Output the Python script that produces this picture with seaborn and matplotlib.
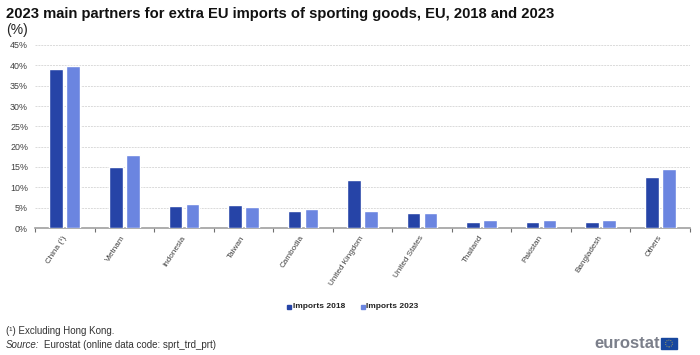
import pandas as pd
import seaborn as sns
import matplotlib.pyplot as plt
from matplotlib.patches import Rectangle, Circle

partners = ['China (¹)', 'Vietnam', 'Indonesia', 'Taiwan', 'Cambodia', 'United Kingdom',
            'United States', 'Thailand', 'Pakistan', 'Bangladesh', 'Others']
imports_2018 = [39.0, 15.0, 5.5, 5.7, 4.2, 11.8, 3.7, 1.4, 1.4, 1.4, 12.6]
imports_2023 = [39.8, 17.9, 6.0, 5.2, 4.6, 4.3, 3.7, 2.0, 2.0, 2.0, 14.4]
y_ticks = [0, 5, 10, 15, 20, 25, 30, 35, 40, 45]

df = pd.DataFrame({'partner': partners * 2,
                   'value': imports_2018 + imports_2023,
                   'series': ['Imports 2018'] * 11 + ['Imports 2023'] * 11})

sns.set_style('white')
plt.rcParams['font.family'] = ['Liberation Sans', 'DejaVu Sans']

fig = plt.figure(figsize=(7, 3.55), dpi=100)
ax = fig.add_axes([35 / 700, 1 - 228 / 355, 655 / 700, 183 / 355])

sns.barplot(data=df, x='partner', y='value', hue='series', ax=ax, width=0.57, gap=0.2,
            palette=['#2644a7', '#6b85e0'], saturation=1, legend=False, zorder=3)

ax.set_xlim(-0.5, 10.5)
ax.set_ylim(0, 45)
ax.set_xlabel('')
ax.set_ylabel('')

# grid
ax.set_yticks(y_ticks)
ax.set_yticklabels([f'{v}%' for v in y_ticks], fontsize=6.4, color='#404040')
ax.yaxis.grid(True, color='#dadada', linestyle=(0, (2, 1)), linewidth=0.7)
ax.set_axisbelow(True)
ax.tick_params(axis='y', length=0, pad=5)

# ticks sit between the categories, labels under the bar groups
ax.set_xticks(range(11))
ax.set_xticklabels(partners, rotation=57, ha='right', va='center', rotation_mode='anchor',
                   fontsize=5.9, color='#404040')
ax.tick_params(axis='x', which='major', length=0, pad=6)
ax.set_xticks([i - 0.5 for i in range(12)], minor=True)
ax.tick_params(axis='x', which='minor', length=3, width=0.8, color='#707070', bottom=True)

for side in ['top', 'right', 'left']:
    ax.spines[side].set_visible(False)
ax.spines['bottom'].set_color('#a0a0a0')
ax.spines['bottom'].set_linewidth(1.2)

# title and notes
fig.text(6 / 700, 1 - 14 / 355, '2023 main partners for extra EU imports of sporting goods, EU, 2018 and 2023',
         fontsize=10.65, fontweight='bold', color='#111111', va='center')
fig.text(6 / 700, 1 - 30 / 355, '(%)', fontsize=10, color='#222222', va='center')
fig.text(6 / 700, 1 - 331 / 355, '(¹) Excluding Hong Kong.', fontsize=7.05, color='#333333', va='center')
fig.text(6 / 700, 1 - 345 / 355, 'Source:', fontsize=7.05, style='italic', color='#333333', va='center')
fig.text(44 / 700, 1 - 345 / 355, 'Eurostat (online data code: sprt_trd_prt)', fontsize=7, color='#333333', va='center')

# legend
fig.patches.append(Rectangle((287 / 700, 1 - 309 / 355), 4 / 700, 4 / 355, transform=fig.transFigure, color='#2644a7'))
fig.text(293 / 700, 1 - 307 / 355, 'Imports 2018', fontsize=6, fontweight='bold', color='#222222', va='center')
fig.patches.append(Rectangle((361 / 700, 1 - 309 / 355), 4 / 700, 4 / 355, transform=fig.transFigure, color='#6b85e0'))
fig.text(366 / 700, 1 - 307 / 355, 'Imports 2023', fontsize=6, fontweight='bold', color='#222222', va='center')

# logo
fig.text(594 / 700, 1 - 344 / 355, 'eurostat', fontsize=12, fontweight='bold', color='#7b7f8a', va='center')
fig.patches.append(Rectangle((661 / 700, 1 - 349 / 355), 16 / 700, 11 / 355, transform=fig.transFigure, color='#17479e'))
fig.patches.append(Circle((669, 355 - 343.5), 3.4, transform=None, fill=False, edgecolor='#c9b64a',
                          linewidth=0.6, linestyle=(0, (1, 1.5))))

fig.savefig('out.png', dpi=100)
